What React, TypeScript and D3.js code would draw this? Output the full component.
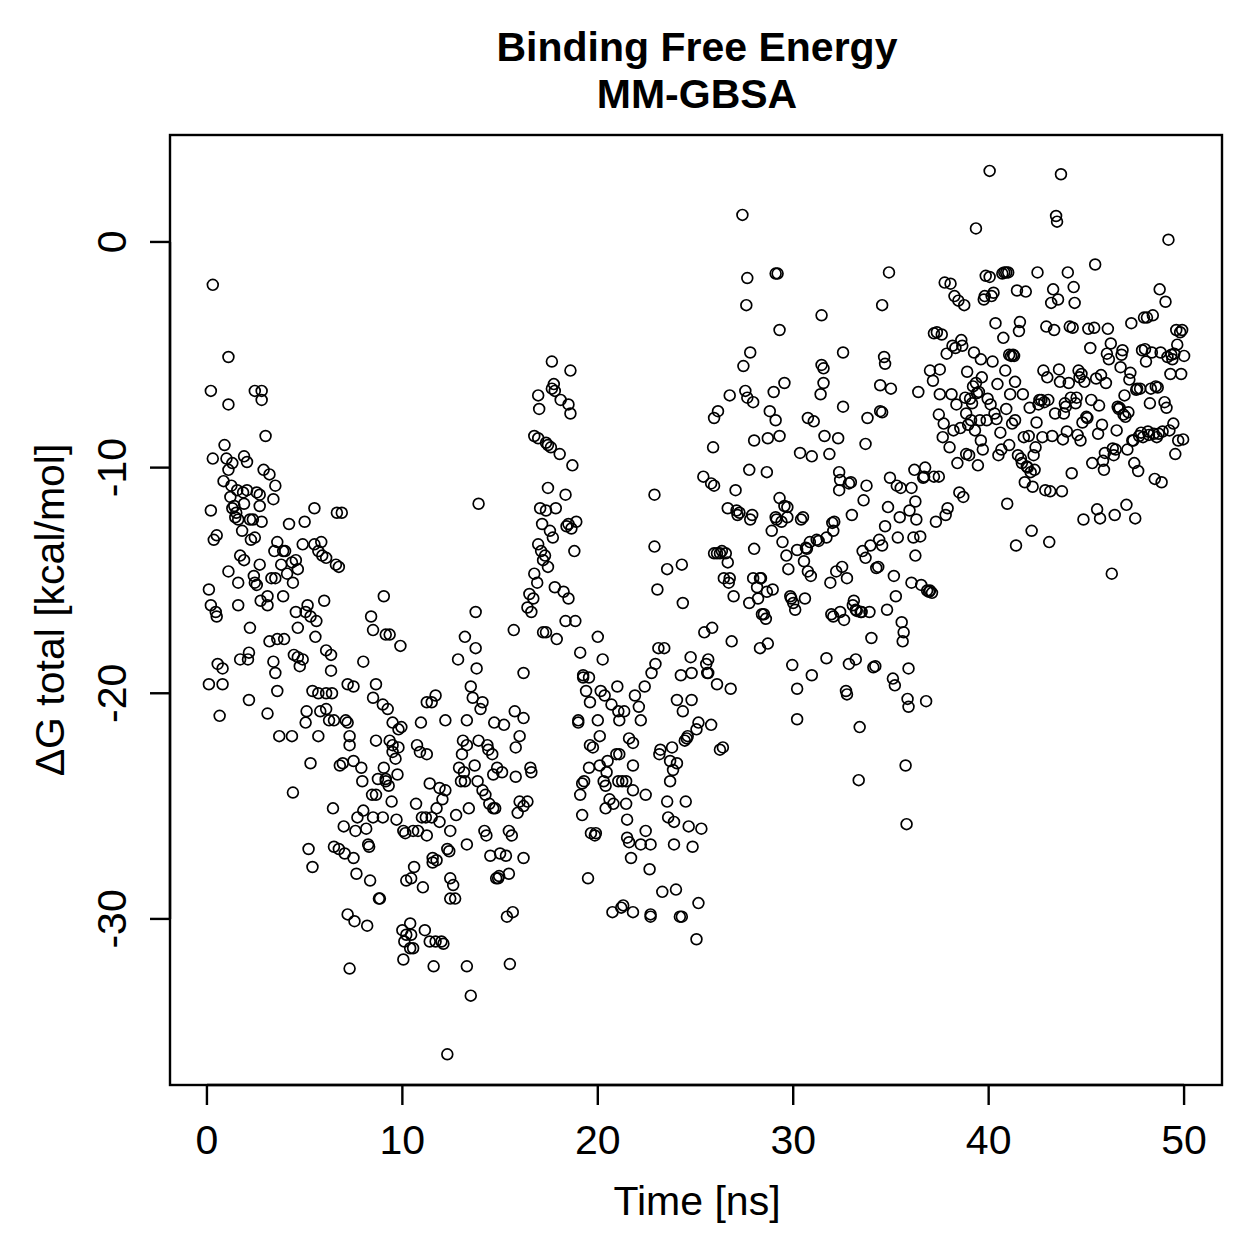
import React from 'react';
import * as d3 from 'd3';

// [time (ns), ΔG total (kcal/mol)] per 10 ns block of the trajectory
const block0to10: [number, number][] = [
  [0.3,-1.9],[0.2,-6.6],[1.1,-5.1],[1.1,-7.2],[0.9,-9.0],[0.3,-9.6],[1.0,-9.6],[1.3,-9.8],[1.1,-10.1],[0.2,-11.9],
  [1.2,-11.3],[1.4,-11.7],[1.5,-12.0],[1.6,-12.3],[0.5,-13.0],[0.35,-13.2],[1.9,-11.6],[1.8,-12.8],[1.7,-13.9],[1.9,-14.1],
  [1.1,-14.6],[1.6,-15.1],[0.1,-15.4],[0.2,-16.1],[0.45,-16.4],[0.5,-16.6],[1.6,-16.1],[1.7,-18.5],[2.1,-18.5],[0.55,-18.7],
  [0.8,-18.9],[0.1,-19.6],[0.8,-19.6],[0.65,-21.0],[1.3,-11.8],
  [1.9,-9.5],[2.05,-9.75],[0.85,-10.6],[1.25,-10.8],[1.55,-11.0],[1.85,-11.1],[2.05,-11.0],[2.2,-12.3],[2.35,-12.3],[1.45,-12.2],
  [2.45,-6.6],[2.8,-6.6],[2.8,-7.0],[3.0,-8.6],[2.9,-10.1],[3.2,-10.3],[3.5,-10.8],[2.55,-11.1],[2.7,-11.7],[2.7,-11.2],
  [2.25,-13.2],[2.45,-13.1],[2.8,-12.4],[3.4,-11.4],[3.6,-13.3],[3.45,-13.7],[3.9,-13.7],[3.8,-14.3],[3.3,-14.9],[3.5,-14.9],
  [2.45,-15.1],[2.75,-15.9],[3.1,-15.7],[3.9,-15.7],[3.2,-17.7],[3.6,-17.6],[3.95,-17.6],[2.2,-17.1],[2.15,-18.2],[3.4,-18.6],
  [3.5,-19.1],[3.6,-19.9],[2.15,-20.3],[3.1,-20.9],[3.7,-21.9],[3.1,-16.1],[2.7,-14.3],[2.4,-14.8],[2.55,-15.2],
  [4.0,-13.7],[4.1,-14.7],[4.35,-14.2],[4.55,-14.1],[4.2,-12.5],[5.0,-12.4],[4.4,-15.1],[4.65,-14.5],[4.55,-16.4],[4.65,-17.1],
  [4.65,-18.4],[4.9,-18.5],[4.45,-18.3],[4.75,-18.8],[4.35,-21.9],[4.4,-24.4],[5.05,-16.4],[5.15,-16.1],[4.9,-13.4],[5.5,-13.4],
  [5.7,-13.7],[5.85,-13.3],[5.5,-11.8],[5.3,-16.6],[5.6,-16.8],[5.55,-17.5],[5.4,-19.9],[5.7,-20.0],[6.1,-20.0],[5.8,-20.8],
  [5.05,-21.3],[5.1,-20.8],[5.7,-21.9],[5.3,-23.1],[5.2,-26.9],[5.4,-27.7],[5.9,-13.9],[6.1,-14.0],
  [6.0,-15.9],[6.1,-18.1],[6.35,-18.3],[6.1,-20.7],[6.35,-19.0],[6.4,-20.0],[6.25,-21.2],[6.5,-21.2],[6.6,-14.3],[6.75,-14.4],
  [6.65,-12.0],[6.9,-12.0],[6.45,-25.1],[6.5,-26.8],[6.75,-26.9],[6.8,-23.2],[6.95,-23.1],[7.1,-21.2],[7.2,-21.3],[7.3,-21.9],
  [7.3,-22.3],[7.0,-25.9],[7.05,-27.1],[7.2,-29.8],[7.3,-32.2],[7.55,-30.1],[7.6,-26.1],[7.5,-27.3],[7.5,-19.7],[7.2,-19.6],
  [7.5,-23.0],[7.7,-25.5],[7.9,-23.3],[8.0,-18.6],[8.15,-26.0],[8.2,-30.3],[7.95,-23.9],[8.0,-25.2],[7.65,-28.0],
  [8.4,-16.6],[8.5,-17.2],[8.65,-19.6],[8.5,-20.2],[8.65,-22.1],[8.75,-23.8],[8.45,-24.5],[8.65,-24.5],[8.5,-25.5],[8.25,-26.7],
  [8.35,-28.3],[8.3,-26.8],[8.85,-29.1],[8.8,-29.1],[9.05,-15.7],[9.15,-17.4],[9.35,-17.4],[9.0,-20.5],[9.25,-20.7],[9.35,-22.1],
  [9.5,-22.3],[9.5,-22.6],[9.65,-22.9],[9.75,-23.6],[9.15,-23.9],[9.3,-24.1],[9.0,-25.5],[9.45,-24.8],[9.7,-25.6],[9.15,-23.8],
  [9.5,-21.3],[9.8,-22.4],[9.8,-21.6],[9.9,-17.9],[9.05,-23.3],
];

const block10to20: [number, number][] = [
  [9.95,-21.5],[10.05,-26.1],[10.15,-26.2],[10.2,-28.3],[10.45,-28.2],[10.0,-30.5],[10.1,-31.0],[10.2,-30.7],[10.4,-30.2],[10.05,-31.8],
  [10.4,-31.3],[10.55,-31.3],[10.45,-30.7],[10.6,-27.7],[10.7,-24.9],[10.55,-26.1],[10.8,-26.1],[10.75,-22.3],[10.9,-22.6],[11.0,-25.5],
  [11.05,-28.6],[11.15,-30.5],[11.25,-26.3],[11.25,-20.4],[11.5,-20.4],[11.7,-20.1],[11.25,-22.7],[11.4,-24.0],[11.2,-25.5],[11.5,-25.5],
  [11.55,-27.3],[11.4,-31.0],[11.55,-27.5],[11.6,-32.1],[11.7,-31.0],[12.0,-31.0],[12.1,-31.1],[11.75,-27.4],[11.9,-25.7],[11.75,-25.1],
  [11.9,-24.2],[10.95,-21.3],
  [12.3,-36.0],[12.2,-21.2],[12.2,-24.3],[12.05,-24.7],[12.3,-26.9],[12.4,-27.0],[12.45,-28.2],[12.6,-28.5],[12.45,-29.1],[12.7,-29.1],
  [12.45,-26.1],[12.75,-25.4],[13.0,-23.9],[12.9,-23.3],[13.15,-23.5],[12.85,-18.5],[13.05,-22.7],[13.2,-17.5],[13.3,-21.2],[13.1,-22.1],
  [13.3,-22.3],[13.2,-23.9],[13.3,-26.7],[13.3,-32.1],[13.5,-33.4],[13.4,-25.1],[13.5,-19.7],[13.6,-20.2],[13.75,-18.0],[13.75,-16.4],
  [13.9,-11.6],[13.8,-18.9],[14.0,-20.7],[14.1,-20.4],[13.9,-22.1],[13.7,-23.2],[13.85,-23.9],[14.1,-24.3],
  [14.35,-22.3],[14.4,-22.5],[14.2,-26.1],[14.3,-26.3],[14.5,-27.2],[14.25,-24.5],[14.45,-24.9],[14.65,-25.1],[14.75,-25.1],[14.6,-22.7],
  [14.65,-23.6],[14.7,-21.3],[14.8,-28.2],[14.9,-28.2],[14.95,-28.1],[15.0,-27.1],[14.85,-23.3],[15.1,-23.5],[15.2,-21.4],[15.3,-27.2],
  [15.35,-29.9],[15.5,-32.0],[15.65,-29.7],[15.45,-26.1],[15.6,-26.3],[15.45,-28.0],[15.7,-17.2],[15.75,-20.8],[15.8,-22.4],[15.8,-23.7],
  [15.9,-25.3],[16.0,-24.8],[16.2,-19.1],[16.0,-21.9],[16.2,-25.0],[16.2,-21.1],[16.2,-27.3],[16.4,-24.8],[16.4,-16.2],[16.5,-15.6],
  [16.55,-23.3],[16.6,-23.5],[16.6,-16.4],
  [16.75,-14.7],[16.9,-15.1],[16.75,-8.6],[16.95,-8.7],[16.95,-6.8],[17.0,-7.4],[16.7,-15.8],[16.95,-13.4],[17.1,-13.7],[17.15,-12.5],
  [17.05,-11.8],[17.2,-17.3],[17.35,-17.3],[17.35,-11.9],[17.45,-10.9],[17.35,-8.9],[17.45,-9.0],[17.2,-14.1],[17.3,-13.9],[17.45,-14.4],
  [17.55,-12.8],[17.6,-9.1],[17.75,-6.3],[17.65,-5.3],[17.65,-6.5],[17.8,-6.6],[17.7,-13.1],[17.8,-15.3],[17.9,-17.6],[17.85,-11.8],
  [18.05,-9.4],[18.1,-7.0],[18.25,-15.5],[18.35,-11.2],[18.4,-12.6],[18.5,-7.2],[18.5,-12.5],[18.5,-15.8],[18.65,-12.7],[18.6,-5.7],
  [18.6,-7.6],[18.35,-16.8],[18.7,-9.9],[18.8,-13.7],
  [18.9,-12.4],[18.85,-16.8],[19.0,-21.2],[19.0,-21.3],[19.1,-18.2],[19.25,-19.2],[19.1,-24.5],[19.2,-25.4],[19.25,-19.3],[19.4,-19.9],
  [19.55,-19.3],[19.2,-24.0],[19.3,-23.9],[19.5,-28.2],[19.55,-23.3],[19.6,-22.3],[19.6,-20.4],[19.75,-22.4],[19.65,-26.2],[19.85,-26.3],
  [19.9,-26.2],[20.0,-17.5],[20.0,-21.2],[20.1,-23.2],[20.15,-19.9],[20.25,-18.5],[20.1,-21.9],
];

const block20to30: [number, number][] = [
  [20.3,-23.9],[20.4,-24.1],[20.4,-25.1],[20.35,-20.1],[20.7,-20.5],[20.5,-23.0],[20.45,-23.5],[20.6,-24.7],[20.75,-29.7],[20.8,-24.9],
  [20.95,-22.7],[21.0,-19.7],[21.1,-21.2],[21.1,-22.7],[21.05,-23.9],[21.05,-20.8],[21.2,-29.5],[21.3,-29.4],[21.25,-23.9],[21.35,-20.8],
  [21.45,-23.9],[21.45,-24.9],[21.5,-25.6],[21.5,-26.4],[21.6,-26.6],[21.7,-27.3],[21.8,-29.7],[21.9,-20.1],[21.8,-22.2],[21.8,-23.2],
  [21.8,-24.3],[21.6,-22.0],
  [22.1,-20.6],[22.2,-21.2],[22.2,-26.7],[22.4,-19.7],[22.45,-26.1],[22.45,-24.5],[22.7,-29.8],[22.7,-29.9],[22.65,-27.8],[22.7,-26.7],
  [22.75,-19.1],[22.9,-11.2],[22.9,-13.5],[22.95,-18.7],[23.05,-15.4],[23.1,-18.0],[23.15,-22.7],[23.2,-22.5],[23.3,-28.8],[23.4,-18.0],
  [23.55,-14.5],[23.55,-24.8],[23.6,-25.5],[23.7,-23.0],[23.7,-23.9],[23.8,-22.4],[23.85,-23.4],[23.9,-25.7],[23.9,-26.7],[24.0,-28.7],
  [24.05,-23.1],
  [24.2,-29.9],[24.3,-29.9],[24.3,-14.3],[24.35,-16.0],[24.25,-19.2],[24.05,-20.3],[24.35,-20.8],[24.45,-22.1],[24.55,-22.0],[24.6,-21.9],
  [24.5,-24.8],[24.65,-25.9],[24.75,-18.4],[24.8,-19.1],[24.8,-20.3],[24.85,-26.8],[25.05,-21.6],[25.05,-30.9],[25.15,-29.3],[25.15,-21.3],
  [25.3,-26.0],[25.4,-10.4],[25.45,-17.3],[25.55,-18.7],[25.6,-19.1],[25.65,-18.5],[25.65,-19.1],[25.8,-21.4],[25.8,-10.7],[25.95,-10.8],
  [25.95,-13.8],[25.9,-9.1],[25.95,-7.8],[25.85,-17.1],
  [26.1,-13.8],[26.25,-13.8],[26.15,-7.5],[26.1,-19.6],[26.25,-22.5],[26.35,-13.7],[26.4,-22.4],[26.45,-14.9],[26.55,-13.8],[26.65,-11.8],
  [26.65,-14.2],[26.7,-15.1],[26.75,-14.9],[26.75,-6.8],[26.8,-19.8],[26.85,-17.7],[26.95,-15.7],[27.05,-11.0],[27.1,-11.9],[27.15,-12.1],
  [27.25,-12.0],[27.4,1.2],[27.45,-5.5],[27.6,-2.8],[27.65,-1.6],[27.55,-6.6],[27.65,-6.9],[27.75,-16.0],[27.8,-4.9],[27.75,-10.1],
  [27.8,-12.3],[27.9,-12.1],[27.95,-14.9],[27.95,-7.1],[28.0,-13.6],[28.0,-8.8],
  [28.15,-15.3],[28.2,-15.8],[28.3,-14.9],[28.3,-18.0],[28.35,-14.9],[28.4,-16.5],[28.5,-16.5],[28.6,-16.7],[28.65,-10.2],[28.65,-15.5],
  [28.7,-8.7],[28.7,-17.8],[28.8,-7.5],[28.9,-12.8],[28.95,-15.4],[29.1,-1.4],[29.2,-1.4],[29.0,-6.65],[29.1,-7.9],[29.1,-12.2],
  [29.15,-12.3],[29.3,-3.9],[29.3,-8.6],[29.3,-11.35],[29.4,-12.4],[29.45,-13.3],[29.55,-6.25],[29.55,-11.7],[29.7,-11.75],[29.7,-12.2],
  [29.85,-15.7],[29.9,-15.8],[29.95,-18.75],[30.0,-16.0],[29.75,-14.5],[29.65,-13.9],
];

const block30to40: [number, number][] = [
  [30.1,-16.3],[30.2,-21.15],[30.2,-19.8],[30.2,-13.65],[30.35,-9.35],[30.4,-12.3],[30.5,-12.2],[30.55,-14.15],[30.65,-13.55],[30.7,-13.6],
  [30.6,-15.8],[30.75,-7.8],[30.75,-14.6],[30.85,-13.3],[30.9,-14.8],[30.95,-19.2],[30.95,-9.5],[31.05,-7.95],[31.2,-13.2],[31.3,-13.25],
  [31.4,-6.75],[31.45,-3.25],[31.45,-5.45],[31.55,-6.25],[31.55,-5.6],[31.6,-8.6],[31.7,-18.45],[31.7,-13.1],[31.85,-9.4],[31.9,-15.1],
  [31.95,-16.5],[32.0,-12.45],[32.05,-12.8],[32.1,-12.4],[32.05,-16.6],[32.2,-14.6],
  [32.3,-8.7],[32.35,-10.2],[32.35,-11.0],[32.4,-10.55],[32.4,-16.4],[32.5,-14.4],[32.55,-4.9],[32.55,-7.3],[32.6,-16.75],[32.7,-19.9],
  [32.75,-20.05],[32.75,-14.9],[32.85,-18.7],[32.85,-10.7],[32.95,-10.65],[33.0,-12.1],[33.05,-16.1],[33.1,-15.9],[33.2,-16.3],[33.2,-18.5],
  [33.25,-16.35],[33.35,-23.85],[33.4,-21.5],[33.45,-16.4],[33.5,-16.4],[33.55,-13.7],[33.6,-11.45],[33.7,-14.0],[33.7,-8.95],[33.75,-10.8],
  [33.8,-7.8],[33.9,-16.4],[33.95,-13.45],[34.0,-17.55],
  [34.1,-18.85],[34.2,-18.8],[34.25,-14.45],[34.35,-14.4],[34.4,-13.2],[34.45,-7.5],[34.45,-6.35],[34.55,-7.55],[34.55,-2.8],[34.55,-13.45],
  [34.65,-5.1],[34.7,-5.4],[34.7,-12.6],[34.8,-16.3],[34.85,-11.75],[34.9,-1.35],[34.95,-10.45],[35.0,-6.5],[35.1,-19.35],[35.15,-14.8],
  [35.2,-19.65],[35.25,-15.7],[35.3,-10.8],[35.35,-13.1],[35.45,-12.2],[35.5,-10.9],[35.55,-16.85],[35.6,-17.7],[35.65,-17.3],[35.75,-23.2],
  [35.8,-25.8],[35.85,-20.25],[35.9,-20.6],[35.9,-18.9],[35.95,-11.9],
  [36.05,-15.1],[36.05,-10.9],[36.2,-10.1],[36.15,-13.1],[36.25,-13.9],[36.25,-11.5],[36.3,-12.3],[36.4,-6.65],[36.5,-13.05],[36.55,-15.2],
  [36.65,-10.45],[36.7,-10.4],[36.75,-10.0],[36.8,-20.35],[36.85,-15.45],[36.95,-15.5],[37.0,-15.45],[37.0,-5.7],[37.1,-15.55],[37.15,-6.15],
  [37.2,-10.4],[37.2,-4.05],[37.3,-12.4],[37.35,-4.0],[37.45,-7.65],[37.45,-10.4],[37.5,-5.65],[37.5,-6.75],[37.6,-4.1],[37.65,-8.65],
  [37.7,-8.05],[37.75,-1.8],[37.8,-12.1],[37.85,-4.95],[37.9,-11.8],
  [38.0,-9.1],[38.05,-1.85],[38.1,-6.75],[38.15,-4.6],[38.2,-8.35],[38.25,-2.4],[38.3,-4.7],[38.4,-9.8],[38.45,-2.6],[38.5,-11.1],
  [38.55,-8.25],[38.6,-4.35],[38.65,-4.6],[38.7,-11.3],[38.75,-2.8],[38.8,-6.9],[38.85,-7.6],[38.85,-9.4],[38.9,-5.75],[39.0,-9.45],
  [39.05,-6.95],[39.1,-7.9],[39.15,-7.15],[39.2,-6.4],[39.3,-8.35],[39.35,0.6],[39.35,-6.25],[39.4,-6.7],[39.45,-9.9],[39.5,-6.65],
  [39.55,-7.9],[39.6,-8.8],[39.65,-6.0],[39.7,-9.2],[39.75,-2.55],[39.8,-2.4],[39.85,-1.5],[39.9,-7.9],[39.95,-6.95],
  [38.35,-7.2],[38.95,-8.1],[39.25,-4.9],[39.6,-5.2],
];

const block40to50: [number, number][] = [
  [40.05,3.15],[40.05,-1.55],[40.1,-7.2],[40.15,-2.4],[40.2,-5.3],[40.25,-2.25],[40.3,-7.6],[40.35,-3.6],[40.4,-7.85],[40.5,-9.45],
  [40.6,-8.45],[40.65,-9.2],[40.7,-1.4],[40.75,-4.25],[40.8,-1.35],[40.85,-5.7],[40.9,-1.35],[40.95,-11.6],[41.0,-1.35],[41.05,-5.0],
  [41.1,-6.75],[41.15,-5.05],[41.2,-8.05],[41.25,-5.0],[41.3,-5.05],[41.35,-6.2],[41.4,-13.45],[41.45,-2.15],[41.5,-9.45],[41.55,-3.95],
  [41.6,-3.55],[41.65,-9.6],[41.7,-9.8],[41.75,-6.75],[41.8,-8.65],[41.85,-10.65],
  [40.45,-6.3],[40.9,-7.4],[41.35,-7.9],[41.05,-9.0],
  [41.9,-2.2],[41.95,-9.95],[42.0,-10.0],[42.05,-8.6],[42.1,-7.35],[42.15,-10.2],[42.2,-12.8],[42.25,-10.85],[42.3,-9.45],[42.35,-10.1],
  [42.45,-8.0],[42.5,-1.35],[42.55,-7.2],[42.6,-7.0],[42.7,-7.0],[42.75,-8.65],[42.8,-5.7],[42.85,-7.1],[42.9,-11.0],[42.95,-3.75],
  [43.0,-6.0],[43.05,-7.0],[43.1,-13.3],[43.15,-11.05],[43.2,-2.7],[43.25,-8.6],[43.3,-2.1],[43.35,-3.9],[43.45,1.15],[43.5,0.9],
  [43.55,-2.55],[43.6,-5.65],[43.65,-6.2],[43.7,3.0],[43.75,-11.05],[43.8,-8.75],[43.85,-7.6],[43.9,-7.15],
  [42.4,-9.1],[43.4,-7.6],
  [43.95,-7.3],[44.0,-8.4],[44.05,-1.35],[44.1,-6.25],[44.15,-3.75],[44.2,-6.9],[44.25,-10.25],[44.3,-3.8],[44.35,-2.0],[44.4,-2.7],
  [44.45,-7.15],[44.5,-6.9],[44.55,-8.55],[44.6,-5.7],[44.65,-6.0],[44.7,-8.8],[44.75,-5.85],[44.8,-8.0],[44.85,-12.3],[44.9,-6.2],
  [45.0,-7.75],[45.05,-7.8],[45.1,-3.85],[45.2,-4.7],[45.25,-7.0],[45.3,-9.8],[45.4,-3.8],[45.45,-1.0],[45.5,-6.05],[45.55,-11.85],
  [45.6,-8.5],[45.65,-7.25],[45.7,-12.25],[45.75,-5.9],[45.8,-8.1],[45.85,-9.7],[45.9,-10.1],
  [45.95,-9.35],[46.0,-6.25],[46.05,-4.95],[46.1,-3.85],[46.15,-5.2],[46.25,-4.5],[46.3,-14.7],[46.35,-9.15],[46.4,-9.45],[46.45,-12.1],
  [46.5,-9.2],[46.55,-8.35],[46.6,-7.3],[46.65,-7.4],[46.7,-7.35],[46.75,-5.55],[46.8,-5.0],[46.85,-4.8],[46.9,-7.65],[46.95,-6.8],
  [47.0,-7.75],[47.05,-11.65],[47.1,-9.2],[47.15,-7.55],[47.2,-6.1],[47.25,-5.8],[47.3,-3.6],[47.35,-8.8],[47.4,-8.8],[47.45,-9.8],
  [47.5,-12.25],[47.55,-6.55],[47.6,-6.5],[47.65,-10.15],[47.7,-8.6],[47.75,-6.5],[47.8,-8.45],[47.85,-4.8],[47.9,-8.65],
  [47.95,-3.35],[48.0,-4.75],[48.05,-5.3],[48.1,-3.35],[48.15,-8.4],[48.2,-8.55],[48.25,-7.15],[48.3,-6.5],[48.35,-4.9],[48.4,-3.25],
  [48.45,-8.5],[48.5,-10.5],[48.55,-6.4],[48.6,-8.65],[48.65,-6.45],[48.7,-8.5],[48.75,-2.1],[48.8,-4.9],[48.85,-10.65],[48.9,-8.4],
  [49.0,-7.1],[49.05,-2.65],[49.1,-7.35],[49.15,-5.1],[49.2,0.1],[49.25,-8.35],[49.3,-5.85],[49.35,-5.0],[49.4,-5.2],[49.45,-8.05],
  [49.5,-4.95],[49.55,-9.4],[49.6,-3.9],[49.65,-4.55],[49.7,-8.8],[49.8,-4.0],[49.85,-5.85],[49.9,-3.9],[49.95,-8.75],[50.0,-5.05],
];

const xTicks = [0, 10, 20, 30, 40, 50];
const yTicks = [0, -10, -20, -30];

const W = 1259;
const H = 1259;
const box = { left: 170, right: 1222, top: 135, bottom: 1085 };
const font = 'Liberation Sans, Arial, Helvetica, sans-serif';

export default function App() {
  const points = [...block0to10, ...block10to20, ...block20to30, ...block30to40, ...block40to50];

  // plot region limits, padded around the data like base R does
  const x = d3.scaleLinear().domain([-1.89, 51.94]).range([box.left, box.right]);
  const y = d3.scaleLinear().domain([-37.36, 4.74]).range([box.bottom, box.top]);

  const tick = 20;
  const fs = 41;

  return (
    <div style={{ position: 'absolute', left: 0, top: 0 }}>
      <svg width={W} height={H} style={{ display: 'block', background: '#fff' }} fontFamily={font}>
        <text x={697} y={61} textAnchor="middle" fontWeight="bold" fontSize={fs}>Binding Free Energy</text>
        <text x={697} y={108} textAnchor="middle" fontWeight="bold" fontSize={fs}>MM-GBSA</text>

        <g fill="none" stroke="#000" strokeWidth={1.7}>
          {points.map(([t, v], i) => (
            <circle key={i} cx={x(t)} cy={y(v)} r={5.4} />
          ))}
        </g>

        <rect x={box.left} y={box.top} width={box.right - box.left} height={box.bottom - box.top}
          fill="none" stroke="#000" strokeWidth={2.4} />

        {/* x axis */}
        <g stroke="#000" strokeWidth={2.4}>
          <line x1={x(xTicks[0])} x2={x(xTicks[xTicks.length - 1])} y1={box.bottom} y2={box.bottom} />
          {xTicks.map(t => (
            <line key={t} x1={x(t)} x2={x(t)} y1={box.bottom} y2={box.bottom + tick} />
          ))}
        </g>
        {xTicks.map(t => (
          <text key={t} x={x(t)} y={1154} textAnchor="middle" fontSize={fs}>{t}</text>
        ))}
        <text x={697} y={1215} textAnchor="middle" fontSize={fs}>Time [ns]</text>

        {/* y axis */}
        <g stroke="#000" strokeWidth={2.4}>
          <line x1={box.left} x2={box.left} y1={y(yTicks[0])} y2={y(yTicks[yTicks.length - 1])} />
          {yTicks.map(v => (
            <line key={v} x1={box.left - tick} x2={box.left} y1={y(v)} y2={y(v)} />
          ))}
        </g>
        {yTicks.map(v => (
          <text key={v} transform={`translate(126,${y(v)}) rotate(-90)`} textAnchor="middle" fontSize={fs}>{v}</text>
        ))}
        <text transform={`translate(64,${(box.top + box.bottom) / 2}) rotate(-90)`} textAnchor="middle" fontSize={fs}>
          ΔG total [kcal/mol]
        </text>
      </svg>
    </div>
  );
}
